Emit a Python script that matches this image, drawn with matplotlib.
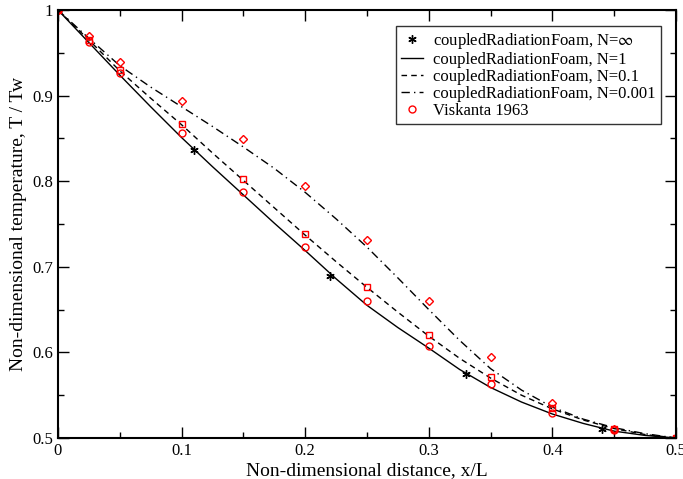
import numpy as np
import matplotlib
matplotlib.use('Agg')
import matplotlib.pyplot as plt
from matplotlib.ticker import MultipleLocator

plt.rcParams['font.family'] = ['Liberation Serif', 'DejaVu Serif']
plt.rcParams['mathtext.fontset'] = 'stix'

# coupledRadiationFoam, N=infinity (stars)
x_inf = [0.0, 0.11, 0.22, 0.33, 0.44]
t_inf = [1.0, 0.837, 0.689, 0.575, 0.510]

# coupledRadiationFoam curves
x_sim = [0.0, 0.025, 0.05, 0.075, 0.1, 0.125, 0.15, 0.175, 0.2, 0.225, 0.25,
         0.275, 0.3, 0.325, 0.35, 0.375, 0.4, 0.425, 0.45, 0.475, 0.5]
t_n1 = [1.0, 0.962, 0.924, 0.887, 0.851, 0.817, 0.784, 0.751, 0.719, 0.686,
        0.655, 0.629, 0.605, 0.580, 0.559, 0.542, 0.528, 0.517, 0.508, 0.503, 0.5]
t_n01 = [1.0, 0.965, 0.929, 0.897, 0.866, 0.833, 0.801, 0.769, 0.737, 0.706,
         0.676, 0.647, 0.619, 0.593, 0.570, 0.550, 0.534, 0.521, 0.511, 0.504, 0.5]
t_n0001 = [1.0, 0.967, 0.935, 0.910, 0.887, 0.864, 0.840, 0.815, 0.787, 0.756,
           0.723, 0.687, 0.650, 0.614, 0.581, 0.556, 0.536, 0.522, 0.512, 0.505, 0.5]

# Viskanta 1963 reference data
x_visk = [0.0, 0.025, 0.05, 0.1, 0.15, 0.2, 0.25, 0.3, 0.35, 0.4, 0.45, 0.5]
v_n1 = [1.0, 0.963, 0.926, 0.856, 0.788, 0.723, 0.660, 0.607, 0.563, 0.529, 0.509, 0.5]
v_n01 = [1.0, 0.965, 0.930, 0.867, 0.803, 0.738, 0.677, 0.620, 0.571, 0.535, 0.510, 0.5]
v_n0001 = [1.0, 0.970, 0.939, 0.894, 0.849, 0.794, 0.731, 0.660, 0.595, 0.541, 0.511, 0.5]

fig = plt.figure(figsize=(6.83, 4.79), dpi=100)
ax = fig.add_axes([0.0849, 0.0856, 0.9049, 0.8934])

ax.plot(x_inf, t_inf, linestyle='none', marker=(6, 2, 0), color='black',
        markersize=6, mew=1.0, label=r'coupledRadiationFoam, N=$\infty$')
ax.plot(x_sim, t_n1, '-', color='black', lw=1.0,
        label='coupledRadiationFoam, N=1')
ax.plot(x_sim, t_n01, color='black', lw=1.0, dashes=(4, 3),
        label='coupledRadiationFoam, N=0.1')
ax.plot(x_sim, t_n0001, color='black', lw=1.0, dashes=(6, 3, 1, 3),
        label='coupledRadiationFoam, N=0.001')
ax.plot(x_visk, v_n1, linestyle='none', marker='o', mfc='none', mec='red',
        markersize=5, mew=1.0, label='Viskanta 1963')
ax.plot(x_visk, v_n01, linestyle='none', marker='s', mfc='none', mec='red',
        markersize=5, mew=1.0)
ax.plot(x_visk, v_n0001, linestyle='none', marker='D', mfc='none', mec='red',
        markersize=4, mew=1.0)

ax.set_xlim(0, 0.5)
ax.set_ylim(0.5, 1.0)
ax.xaxis.set_minor_locator(MultipleLocator(0.05))
ax.yaxis.set_minor_locator(MultipleLocator(0.05))
ax.set_xticks([0, 0.1, 0.2, 0.3, 0.4, 0.5])
ax.set_xticklabels(['0', '0.1', '0.2', '0.3', '0.4', '0.5'])
ax.set_yticks([0.5, 0.6, 0.7, 0.8, 0.9, 1.0])
ax.set_yticklabels(['0.5', '0.6', '0.7', '0.8', '0.9', '1'])
ax.tick_params(which='both', direction='in', top=True, right=True,
               labelsize=12, width=1.0)
ax.tick_params(which='major', length=8)
ax.tick_params(which='minor', length=4)
for s in ax.spines.values():
    s.set_linewidth(1.5)

ax.set_xlabel('Non-dimensional distance, x/L', fontsize=14, labelpad=2)
ax.set_ylabel('Non-dimensional temperature, T / Tw', fontsize=14, labelpad=4)

leg = ax.legend(loc='upper right', bbox_to_anchor=(0.975, 0.963), fontsize=12,
                frameon=True, fancybox=False, edgecolor='black',
                borderpad=0.3, labelspacing=0.06, handlelength=1.3,
                handletextpad=0.6, borderaxespad=0)
leg.get_frame().set_linewidth(1.0)

fig.savefig('out.png', dpi=100)
